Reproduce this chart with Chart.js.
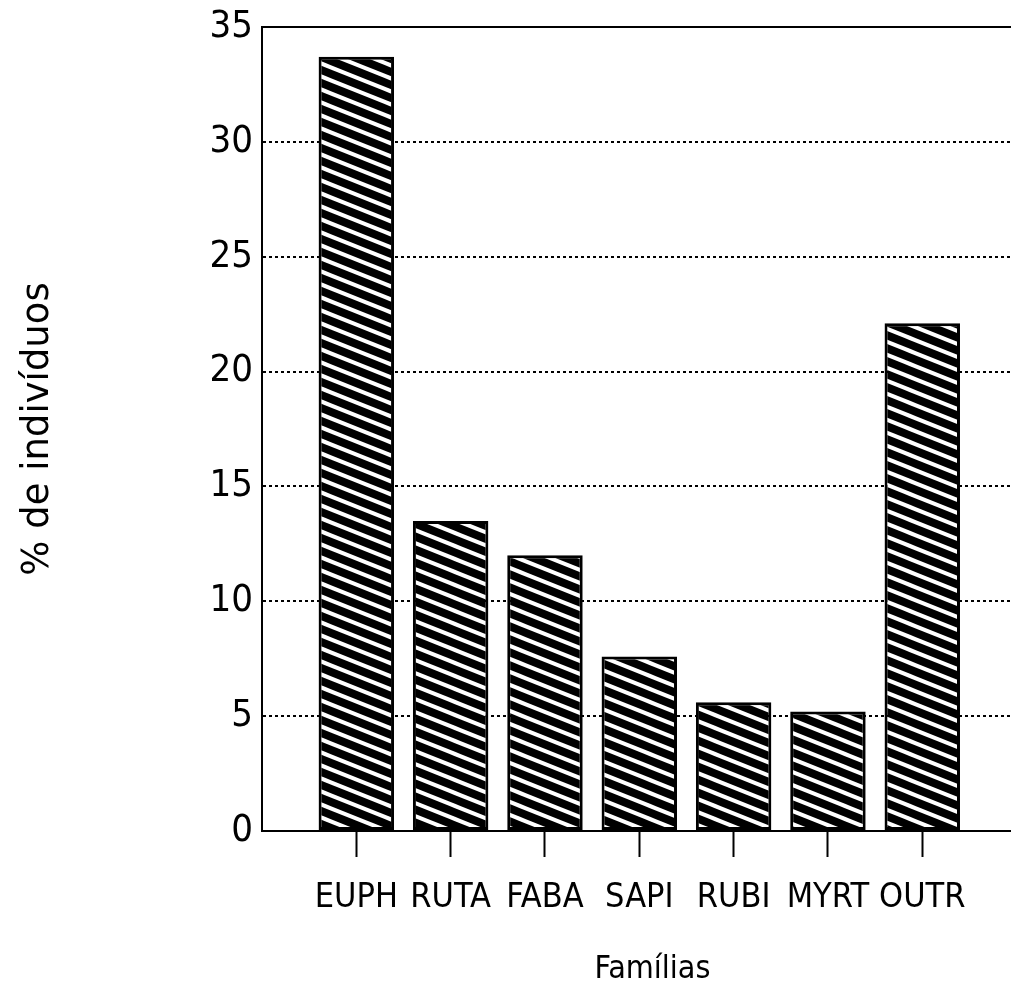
<!DOCTYPE html>
<html>
<head>
<meta charset="utf-8">
<script src="https://cdn.jsdelivr.net/npm/chart.js@4.4.0/dist/chart.umd.min.js"></script>
<style>
  html, body { margin: 0; padding: 0; background: #fff; overflow: hidden; }
  #view { width: 1011px; height: 989px; overflow: hidden; position: relative; }
  /* the plot runs a little past the right edge, as in the scanned figure */
  #wrap { width: 1043px; height: 989px; position: absolute; left: 0; top: 0; }
</style>
</head>
<body>
<div id="view"><div id="wrap"><canvas id="chart"></canvas></div></div>
<script>
// Families (x axis) and share of individuals in %
const categories = ['EUPH', 'RUTA', 'FABA', 'SAPI', 'RUBI', 'MYRT', 'OUTR'];
const percentages = [33.7, 13.5, 12.0, 7.6, 5.6, 5.2, 22.1];
const yMin = 0;
const yMax = 35;
const yStep = 5;

const narrow = '"Liberation Sans Narrow", "DejaVu Sans Condensed", sans-serif';

// Diagonal hatch: black bar with thin white stripes going down to the right
function makeHatch() {
  const tile = document.createElement('canvas');
  tile.width = 65;
  tile.height = 13;
  const t = tile.getContext('2d');
  t.fillStyle = '#000';
  t.fillRect(0, 0, tile.width, tile.height);
  t.strokeStyle = '#fff';
  t.lineWidth = 4;
  for (let c = -39; c <= 26; c += 13) {
    t.beginPath();
    t.moveTo(-10, c - 4);
    t.lineTo(75, c + 0.4 * 75);
    t.stroke();
  }
  return t.createPattern(tile, 'repeat');
}

const ctx = document.getElementById('chart').getContext('2d');
const hatch = makeHatch();

new Chart(ctx, {
  type: 'bar',
  data: {
    datasets: [{
      data: percentages.map((v, i) => ({ x: i + 1, y: v })),
      backgroundColor: hatch,
      borderColor: '#000',
      borderWidth: 3,
      borderSkipped: false,
      categoryPercentage: 0.8,
      barPercentage: 1
    }]
  },
  options: {
    responsive: true,
    maintainAspectRatio: false,
    animation: false,
    layout: { padding: { top: 27, left: 0, right: 0, bottom: 0 } },
    plugins: {
      legend: { display: false },
      tooltip: { enabled: false }
    },
    scales: {
      x: {
        type: 'linear',
        offset: false,
        min: 0,
        max: 8.28,
        afterBuildTicks: scale => {
          scale.ticks = categories.map((c, i) => ({ value: i + 1 }));
        },
        afterFit: scale => {
          scale.height = 158;
          scale.paddingLeft = 0;
          scale.paddingRight = 0;
        },
        grid: {
          offset: false,
          drawOnChartArea: false,
          drawTicks: true,
          tickLength: 26,
          tickColor: '#000',
          tickWidth: 2
        },
        border: { display: true, color: '#000', width: 2 },
        ticks: {
          color: '#000',
          padding: 21,
          maxRotation: 0,
          autoSkip: false,
          font: { family: narrow, size: 34 },
          callback: value => categories[Math.round(value) - 1] || ''
        },
        title: {
          display: true,
          text: 'Famílias',
          color: '#000',
          font: { family: narrow, size: 32 },
          padding: { top: 0, bottom: 0 }
        }
      },
      y: {
        min: yMin,
        max: yMax,
        afterFit: scale => {
          scale.width = 262;
          scale.paddingTop = 0;
          scale.paddingBottom = 0;
        },
        grid: {
          drawTicks: false,
          lineWidth: 2,
          color: c => (c.tick && c.tick.value === yMin) ? 'rgba(0,0,0,0)' : '#000'
        },
        border: {
          display: true,
          color: '#000',
          width: 2,
          dash: c => (c.tick && c.tick.value === yMax) ? [] : [3, 3]
        },
        ticks: {
          stepSize: yStep,
          color: '#000',
          padding: 9,
          font: { family: narrow, size: 38 }
        },
        title: {
          display: true,
          text: '% de indivíduos',
          color: '#000',
          font: { family: '"DejaVu Sans", sans-serif', size: 37 },
          padding: { top: 16, bottom: 0 }
        }
      }
    }
  }
});
</script>
</body>
</html>
